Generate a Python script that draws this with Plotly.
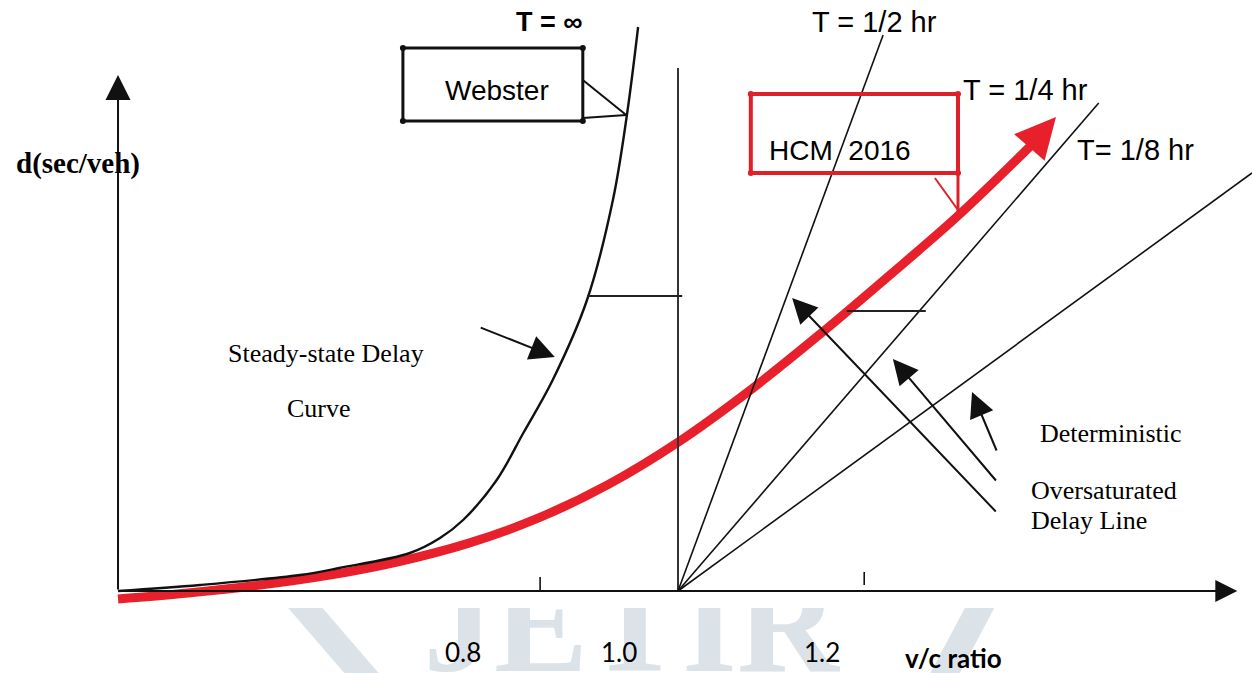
import plotly.graph_objects as go

# ---------------- coordinate ranges (v/c ratio on x, delay in sec/veh on y) ----------------
X_RANGE = [0.0314, 1.82]
Y_RANGE = [-20.5, 147.75]
WM_Y_RANGE = [-20.5, -4.25]          # strip along the bottom that carries the watermark

# ---------------- Webster steady-state delay curve (T = infinity) ----------------
webster_vc = [0.20, 0.317, 0.46, 0.516, 0.617, 0.66, 0.693, 0.741, 0.779, 0.821, 0.87, 0.907, 0.927, 0.943]
webster_d = [0.0, 1.5, 4.0, 5.75, 9.5, 13.25, 17.75, 27.75, 39.5, 52.75, 72.75, 97.75, 119.0, 141.0]

# ---------------- HCM 2016 delay curve ----------------
hcm_vc = [0.20, 0.30, 0.40, 0.50, 0.60, 0.70, 0.80, 0.90, 1.00, 1.10, 1.20, 1.30, 1.40, 1.505]
hcm_d = [-2.0, -0.5, 1.4, 3.9, 7.3, 11.9, 18.2, 26.6, 37.2, 49.8, 63.8, 78.6, 93.8, 111.5]
hcm_tip_vc, hcm_tip_d = 1.54, 118.5

# ---------------- deterministic oversaturated delay lines ----------------
det_names = ["T = 1/2 hr", "T = 1/4 hr", "T= 1/8 hr"]
det_start_vc, det_start_d = 1.0, 0.0
det_end_vc = [1.293, 1.601, 1.82]
det_end_d = [139.0, 122.0, 104.5]
det_label_vc = [1.281, 1.497, 1.653]
det_label_d = [142.25, 125.25, 110.25]

# capacity line at v/c = 1.0
cap_vc = 1.0
cap_top_d = 130.75

# short horizontal markers
hmark_vc0 = [0.87, 1.241]
hmark_vc1 = [1.006, 1.354]
hmark_d = [73.75, 70.0]

# axis origin and arrow tips
origin_vc, origin_d = 0.2, 0.0
x_axis_tip_vc = 1.799
y_axis_tip_d = 129.0

# small tick marks on the v/c axis
tick_vc = [0.803, 1.266]
tick_lo = [0.0, 1.5]
tick_hi = [3.5, 4.75]

# tick labels
tick_text = ["0.8", "1.0", "1.2"]
tick_text_vc = [0.693, 0.916, 1.206]
tick_text_d = -15.25

# callout arrows pointing at the steady-state curve and the deterministic lines
ss_arrow_tail = (0.716, 66.0)
ss_arrow_tip = (0.824, 58.5)
det_arrow_tail_vc = [1.456, 1.456, 1.456]
det_arrow_tail_d = [19.5, 27.25, 34.75]
det_arrow_tip_vc = [1.163, 1.307, 1.42]
det_arrow_tip_d = [73.25, 58.0, 49.75]

# label boxes
webster_box_vc = [0.607, 0.864]
webster_box_d = [117.5, 135.75]
webster_ptr_from_d = [127.75, 118.25]
webster_ptr_to = (0.926, 119.0)

hcm_box_vc = [1.104, 1.40]
hcm_box_d = [104.5, 124.25]
hcm_ptr_bottom_d = 94.75
hcm_ptr_diag = ([1.367, 1.40], [103.25, 95.25])

# watermark
wm_text = "JETIR"
wm_vc, wm_d = 0.933, -11.25
wm_left_chevron = ([0.443, 0.56], [0.75, -23.0])
wm_right_chevron = ([1.446, 1.374], [0.75, -23.0])

BLACK = "#111111"
RED = "#e8202c"
BOX_RED = "#de2128"
WM_COLOR = "#dce3e8"
SANS = "Liberation Sans"
SERIF = "Liberation Serif"
TICKFONT = "Lato"

fig = go.Figure()


def add_line(xs, ys, color=BLACK, width=2.0, shape="linear", xaxis="x", yaxis="y"):
    fig.add_trace(go.Scatter(
        x=xs, y=ys, mode="lines", xaxis=xaxis, yaxis=yaxis,
        line=dict(color=color, width=width, shape=shape, smoothing=1.0),
        hoverinfo="skip", showlegend=False,
    ))


# watermark strip (clipped to the bottom band)
add_line(*wm_left_chevron, color=WM_COLOR, width=26, xaxis="x2", yaxis="y2")
add_line(*wm_right_chevron, color=WM_COLOR, width=26, xaxis="x2", yaxis="y2")
fig.add_trace(go.Scatter(
    x=[wm_vc], y=[wm_d], mode="text", text=[wm_text], xaxis="x2", yaxis="y2",
    textposition="middle center", cliponaxis=True,
    textfont=dict(family=SERIF, size=141, color=WM_COLOR, weight="bold"),
    hoverinfo="skip", showlegend=False,
))

# HCM 2016 curve
add_line(hcm_vc, hcm_d, color=RED, width=9, shape="spline")

# Webster curve
add_line(webster_vc, webster_d, color=BLACK, width=2.4, shape="spline")

# capacity line and deterministic lines
add_line([cap_vc, cap_vc], [origin_d, cap_top_d], color="#333333", width=2)
for ev, ed in zip(det_end_vc, det_end_d):
    add_line([det_start_vc, ev], [det_start_d, ed], color=BLACK, width=1.6)

# horizontal markers
for a, b, d in zip(hmark_vc0, hmark_vc1, hmark_d):
    add_line([a, b], [d, d], color="#222222", width=1.8)

# tick marks
for v, lo, hi in zip(tick_vc, tick_lo, tick_hi):
    add_line([v, v], [lo, hi], color=BLACK, width=1.6)

# Webster box pointer
for fd in webster_ptr_from_d:
    add_line([webster_box_vc[1], webster_ptr_to[0]], [fd, webster_ptr_to[1]], color=BLACK, width=2)

# HCM box pointer
add_line([hcm_box_vc[1], hcm_box_vc[1]], [hcm_box_d[0], hcm_ptr_bottom_d], color=BOX_RED, width=3)
add_line(*hcm_ptr_diag, color=BOX_RED, width=2)

# box corner handles
for bvc, bd, col in [(webster_box_vc, webster_box_d, BLACK), (hcm_box_vc, hcm_box_d, BOX_RED)]:
    fig.add_trace(go.Scatter(
        x=[bvc[0], bvc[1], bvc[0], bvc[1]], y=[bd[0], bd[0], bd[1], bd[1]],
        mode="markers", marker=dict(color=col, size=6),
        hoverinfo="skip", showlegend=False,
    ))

shapes = [
    dict(type="rect", xref="x", yref="y", x0=webster_box_vc[0], x1=webster_box_vc[1],
         y0=webster_box_d[0], y1=webster_box_d[1], line=dict(color=BLACK, width=3)),
    dict(type="rect", xref="x", yref="y", x0=hcm_box_vc[0], x1=hcm_box_vc[1],
         y0=hcm_box_d[0], y1=hcm_box_d[1], line=dict(color=BOX_RED, width=4)),
]

annotations = []


def arrow(tail, tip, color=BLACK, width=2.0, size=2.5):
    annotations.append(dict(
        x=tip[0], y=tip[1], ax=tail[0], ay=tail[1], xref="x", yref="y", axref="x", ayref="y",
        text="", showarrow=True, arrowhead=2, arrowsize=size, arrowwidth=width,
        arrowcolor=color, standoff=0,
    ))


# axes drawn as arrows from the origin
arrow((origin_vc, origin_d), (x_axis_tip_vc, origin_d), width=2.2, size=2.0)
arrow((origin_vc, origin_d), (origin_vc, y_axis_tip_d), width=2.0, size=2.5)

# HCM arrowhead
arrow((hcm_vc[-1], hcm_d[-1]), (hcm_tip_vc, hcm_tip_d), color=RED, width=9, size=0.9)

# callout arrows
arrow(ss_arrow_tail, ss_arrow_tip, width=2.0, size=2.5)
for tv, td, hv, hd in zip(det_arrow_tail_vc, det_arrow_tail_d, det_arrow_tip_vc, det_arrow_tip_d):
    arrow((tv, td), (hv, hd), width=2.0, size=2.5)


def label(text, x, y, family, size, bold=False, xanchor="center"):
    annotations.append(dict(
        x=x, y=y, xref="x", yref="y", text=f"<b>{text}</b>" if bold else text,
        showarrow=False, xanchor=xanchor, yanchor="middle",
        font=dict(family=family, size=size, color="black"),
    ))


label("d(sec/veh)", 0.143, 107.0, SERIF, 29, bold=True)
label("Webster", 0.741, 125.25, SANS, 28)
label("T = ∞", 0.817, 142.25, SANS, 27, bold=True)
label("HCM  2016", 1.231, 110.25, SANS, 28)
for name, lv, ld in zip(det_names, det_label_vc, det_label_d):
    label(name, lv, ld, SANS, 29)
label("Steady-state Delay", 0.354, 59.5, SERIF, 26, xanchor="left")
label("Curve", 0.439, 45.75, SERIF, 26, xanchor="left")
label("Deterministic", 1.514, 39.5, SERIF, 26, xanchor="left")
label("Oversaturated", 1.501, 25.25, SERIF, 26, xanchor="left")
label("Delay Line", 1.501, 17.75, SERIF, 26, xanchor="left")
for t, v in zip(tick_text, tick_text_vc):
    label(t, v, tick_text_d, TICKFONT, 26)
label("v/c ratio", 1.394, -16.75, TICKFONT, 26, bold=True)

fig.update_layout(
    width=1252, height=673,
    margin=dict(l=0, r=0, t=0, b=0),
    paper_bgcolor="white", plot_bgcolor="rgba(0,0,0,0)",
    shapes=shapes, annotations=annotations,
    xaxis=dict(range=X_RANGE, domain=[0, 1], visible=False, fixedrange=True),
    yaxis=dict(range=Y_RANGE, domain=[0, 1], visible=False, fixedrange=True),
    xaxis2=dict(range=X_RANGE, domain=[0, 1], anchor="y2", visible=False, fixedrange=True),
    yaxis2=dict(range=WM_Y_RANGE, domain=[0, 65 / 673], anchor="x2", visible=False, fixedrange=True),
)

fig.write_html("out.html")
